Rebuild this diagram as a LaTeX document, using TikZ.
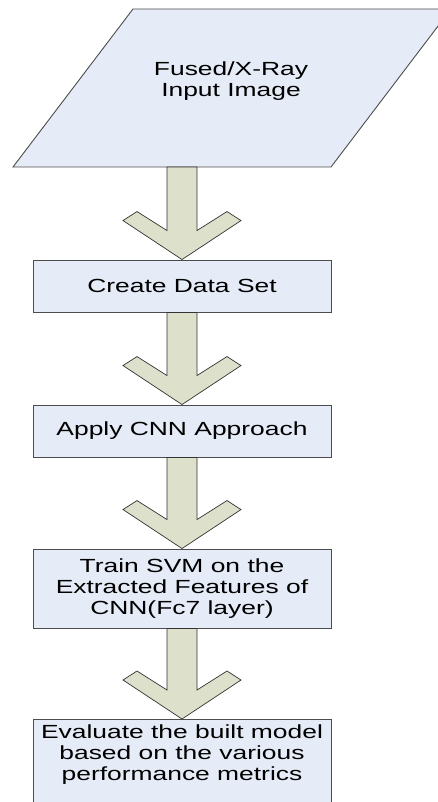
\documentclass[tikz,border=0pt]{standalone}
\usepackage{fontspec}
\setmainfont{Liberation Sans}
\newfontfamily\chartfont[FakeStretch=1.39]{Liberation Sans}
\usetikzlibrary{calc}

\definecolor{boxblue}{RGB}{230,236,247}
\definecolor{arrowkhaki}{RGB}{221,224,202}

\begin{document}
\begin{tikzpicture}[x=1pt, y=-1pt,
    flowbox/.style={draw=black!70, line width=0.9pt, fill=boxblue, minimum width=298pt,
      inner sep=0pt, align=center, font=\chartfont\fontsize{19}{21}\selectfont},
    blockarrow/.style={draw=black!80, line width=0.7pt, fill=arrowkhaki}]
  \clip (0,0) rectangle (438,802);

  % Input parallelogram
  \draw[draw=black!70, line width=0.9pt, fill=boxblue] (13,167) -- (133,9) -- (451,9) -- (331,167) -- cycle;
  \node[align=center, font=\chartfont\fontsize{19}{21}\selectfont] (input) at (231,81) {Fused/X-Ray\\Input Image};
  \coordinate (inputout) at (182,167);

  % Process boxes
  \node[flowbox, minimum height=52pt] (dataset) at (182,286) {Create Data Set};
  \node[flowbox, minimum height=52pt] (cnn) at (182,431) {Apply CNN Approach};
  \node[flowbox, minimum height=79pt] (svm) at (182,588.5) {Train SVM on the\\Extracted Features of\\CNN(Fc7 layer)};
  \node[flowbox, minimum height=87pt, anchor=north] (evaluate) at (182,719) {Evaluate the built model\\based on the various\\performance metrics\\~};

  % Block arrows
  \foreach \from/\to in {inputout/dataset, dataset.south/cnn, cnn.south/svm, svm.south/evaluate}
    \draw[blockarrow] ($(\from)+(-15,0)$) -- ($(\to.north)+(-15,-29)$) -- ($(\to.north)+(-45,-48)$)
      -- ($(\to.north)+(-59,-39)$) -- (\to.north) -- ($(\to.north)+(59,-39)$)
      -- ($(\to.north)+(45,-48)$) -- ($(\to.north)+(15,-29)$) -- ($(\from)+(15,0)$) -- cycle;
\end{tikzpicture}
\end{document}
